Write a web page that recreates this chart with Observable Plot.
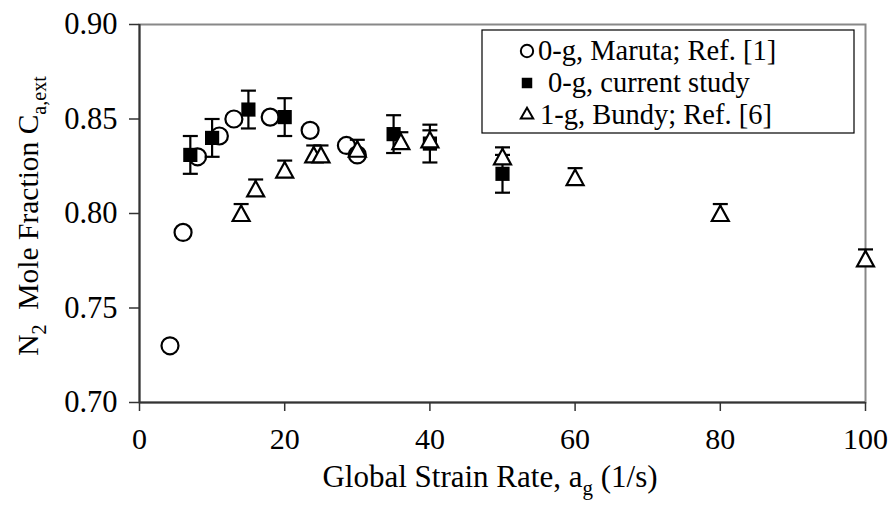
<!DOCTYPE html>
<html><head><meta charset="utf-8">
<script src="https://cdn.jsdelivr.net/npm/d3@7"></script>
<script src="https://cdn.jsdelivr.net/npm/@observablehq/plot@0.6"></script>
<style>
body{margin:0;background:#fff}
svg{font-family:"Liberation Serif","Times New Roman",serif}
</style>
</head><body><div id="chart"></div>
<script>
// 0-g, Maruta; Ref. [1]
const marutaX = [4.2, 6, 8, 11, 13, 18, 23.5, 28.5, 30];
const marutaY = [0.730, 0.790, 0.830, 0.841, 0.850, 0.851, 0.844, 0.836, 0.831];
// 0-g, current study
const studyX = [7, 10, 15, 20, 35, 40, 50];
const studyY = [0.831, 0.840, 0.855, 0.851, 0.842, 0.837, 0.821];
const studyErr = [0.010, 0.010, 0.010, 0.010, 0.010, 0.010, 0.010];
// 1-g, Bundy; Ref. [6]
const bundyX = [14, 16, 20, 24, 25, 30, 36, 40, 50, 60, 80, 100];
const bundyY = [0.800, 0.813, 0.823, 0.831, 0.831, 0.834, 0.838, 0.839, 0.830, 0.819, 0.800, 0.776];
const bundyErr = [0.005, 0.005, 0.005, 0.005, 0.005, 0.005, 0.005, 0.005, 0.005, 0.005, 0.005, 0.005];

const xTicks = [0, 20, 40, 60, 80, 100];
const yTicks = [0.70, 0.75, 0.80, 0.85, 0.90];
const legendLabels = ["0-g, Maruta; Ref. [1]", "0-g, current study", "1-g, Bundy; Ref. [6]"];

const maruta = marutaX.map((x, i) => ({x, y: marutaY[i]}));
const study = studyX.map((x, i) => ({x, y: studyY[i], e: studyErr[i]}));
const bundy = bundyX.map((x, i) => ({x, y: bundyY[i], e: bundyErr[i]}));

// marker shapes
const cap = {draw(ctx) { ctx.moveTo(-7.5, 0); ctx.lineTo(7.5, 0); }};
const tri = {draw(ctx) { ctx.moveTo(0, -8); ctx.lineTo(8.5, 7.5); ctx.lineTo(-8.5, 7.5); ctx.closePath(); }};

const W = 892, H = 508;
const plot = Plot.plot({
  width: W, height: H,
  marginLeft: 139, marginRight: 27, marginTop: 24, marginBottom: 106,
  style: {fontFamily: '"Liberation Serif","Times New Roman",serif', background: "#fff"},
  x: {domain: [0, 100], ticks: xTicks, label: null},
  y: {domain: [0.70, 0.90], ticks: yTicks, tickFormat: d3.format(".2f"), label: null},
  marks: [
    Plot.frame({stroke: "#888", strokeWidth: 2}),
    Plot.ruleX([0], {stroke: "#333", strokeWidth: 2}),
    Plot.ruleY([0.70], {stroke: "#333", strokeWidth: 2}),
    Plot.axisX({ticks: xTicks, label: null, tickSize: 9, tickPadding: 16, fontSize: 30, stroke: "#333", strokeWidth: 1.5, color: "#000"}),
    Plot.axisY({ticks: yTicks, label: null, tickSize: 10, tickPadding: 12, fontSize: 30.5, tickFormat: d3.format(".2f"), stroke: "#333", strokeWidth: 1.5, color: "#000"}),
    // Maruta circles
    Plot.dot(maruta, {x: "x", y: "y", r: 8.5, symbol: "circle", fill: "none", stroke: "black", strokeWidth: 2.2}),
    // Study: error bars + filled squares
    Plot.ruleX(study, {x: "x", y1: d => d.y - d.e, y2: d => d.y + d.e, stroke: "black", strokeWidth: 2.2}),
    Plot.dot(study, {x: "x", y: d => d.y + d.e, symbol: cap, stroke: "black", fill: "none", strokeWidth: 2.2}),
    Plot.dot(study, {x: "x", y: d => d.y - d.e, symbol: cap, stroke: "black", fill: "none", strokeWidth: 2.2}),
    Plot.dot(study, {x: "x", y: "y", r: 8, symbol: "square", fill: "black", stroke: "none"}),
    // Bundy: upper error bars + open triangles
    Plot.ruleX(bundy, {x: "x", y1: "y", y2: d => d.y + d.e, stroke: "black", strokeWidth: 2.2}),
    Plot.dot(bundy, {x: "x", y: d => d.y + d.e, symbol: cap, stroke: "black", fill: "none", strokeWidth: 2.2}),
    Plot.dot(bundy, {x: "x", y: "y", symbol: tri, fill: "white", stroke: "black", strokeWidth: 2.2})
  ]
});
document.getElementById("chart").appendChild(plot);

const svg = d3.select(plot);
// y axis label
const yl = svg.append("text")
  .attr("transform", "translate(38,216) rotate(-90)")
  .attr("text-anchor", "middle").attr("font-size", 29.5).attr("fill", "#000");
yl.append("tspan").text("N");
yl.append("tspan").attr("font-size", 20).attr("dy", 8).text("2");
yl.append("tspan").attr("dy", -8).text("\u00a0 Mole Fraction C");
yl.append("tspan").attr("font-size", 20).attr("dy", 8).text("a,ext");
// x axis label
const xl = svg.append("text")
  .attr("x", 490).attr("y", 487)
  .attr("text-anchor", "middle").attr("font-size", 31).attr("fill", "#000");
xl.append("tspan").text("Global Strain Rate, a");
xl.append("tspan").attr("font-size", 21).attr("dy", 8).text("g");
xl.append("tspan").attr("dy", -8).text(" (1/s)");

// legend
const lg = svg.append("g").attr("text-anchor", "start");
lg.append("rect").attr("x", 482).attr("y", 30).attr("width", 372).attr("height", 103)
  .attr("fill", "white").attr("stroke", "black").attr("stroke-width", 1.2);
const syms = [d3.symbolCircle, d3.symbolSquare, d3.symbolTriangle2];
const sizes = [120, 110, 110];
const textX = [538, 548, 540];
legendLabels.forEach((t, i) => {
  const base = 60 + i * 32;
  const cy = base - 9;
  const p = lg.append("path").attr("d", d3.symbol(syms[i], sizes[i])())
    .attr("transform", `translate(527,${cy})`)
    .attr("stroke-width", 2);
  if (i === 1) p.attr("fill", "black"); else p.attr("fill", "none").attr("stroke", "black");
  lg.append("text").attr("x", textX[i]).attr("y", base).attr("font-size", 28.5).attr("fill", "#000").text(t);
});
</script>
</body></html>
